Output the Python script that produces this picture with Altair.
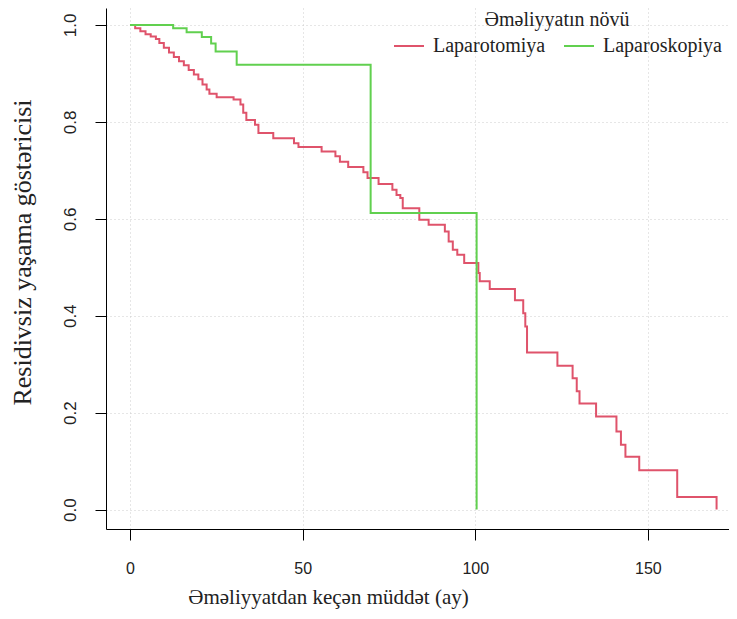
import altair as alt
import pandas as pd

groups = ["Laparotomiya", "Laparoskopiya"]
colors = ["#DF536B", "#61D04F"]

red_t = [0, 1.5, 3.0, 4.5, 6.0, 7.5, 8.5, 9.8, 11.3, 12.7, 14.2, 15.6, 17.0, 18.5, 19.8,
         21.0, 22.2, 23.0, 25.1, 30.0, 32.0, 32.8, 33.7, 36.2, 37.2, 41.5, 47.5, 48.8,
         55.5, 59.5, 60.8, 63.2, 67.6, 68.8, 72.0, 76.0, 77.2, 78.3, 79.0, 83.8, 86.5,
         91.2, 92.3, 93.5, 94.8, 96.8, 100.9, 101.3, 104.2, 111.5, 113.9, 114.5, 115.0,
         123.8, 128.2, 129.4, 130.2, 135.0, 140.9, 142.2, 143.5, 147.5, 158.5, 169.9]
red_s = [1.0, 0.993, 0.987, 0.981, 0.976, 0.971, 0.963, 0.953, 0.943, 0.934, 0.925, 0.917,
         0.907, 0.898, 0.888, 0.877, 0.867, 0.858, 0.851, 0.846, 0.836, 0.819, 0.804,
         0.794, 0.777, 0.766, 0.756, 0.748, 0.739, 0.729, 0.718, 0.707, 0.696, 0.684,
         0.672, 0.660, 0.649, 0.643, 0.622, 0.598, 0.588, 0.574, 0.553, 0.536, 0.526,
         0.509, 0.488, 0.471, 0.455, 0.432, 0.405, 0.378, 0.324, 0.297, 0.271, 0.244,
         0.219, 0.192, 0.161, 0.134, 0.109, 0.081, 0.026, 0.0]

green_t = [0, 12.5, 16.4, 20.8, 23.5, 24.8, 30.9, 69.7, 100.4]
green_s = [1.0, 0.993, 0.985, 0.975, 0.962, 0.945, 0.918, 0.612, 0.0]

x_ticks = [0, 50, 100, 150]
y_ticks = [0.0, 0.2, 0.4, 0.6, 0.8, 1.0]

SERIF = "Liberation Serif, Times New Roman, DejaVu Serif, serif"
SANS = "Liberation Sans, Arial, sans-serif"

df = pd.concat([
    pd.DataFrame({"t": red_t, "s": red_s, "group": groups[0]}),
    pd.DataFrame({"t": green_t, "s": green_s, "group": groups[1]}),
], ignore_index=True)

x_axis = alt.Axis(
    values=x_ticks, title="Əməliyyatdan keçən müddət (ay)",
    labelFont=SANS, labelFontSize=16, labelColor="#222",
    tickSize=11, tickColor="black", domainColor="black", labelPadding=20,
    grid=True, gridColor="#cccccc", gridDash=[1, 3],
    titleFont=SERIF, titleFontSize=21, titleFontWeight="normal",
    titleColor="#222", titleX=222, titleY=68, titleAlign="center", titleBaseline="middle",
)
y_axis = alt.Axis(
    values=y_ticks, format=".1f", title="Residivsiz yaşama göstəricisi",
    labelFont=SANS, labelFontSize=17, labelColor="#222",
    labelAngle=270, labelAlign="center", labelBaseline="bottom",
    tickSize=11, tickColor="black", domainColor="black", labelPadding=16,
    grid=True, gridColor="#cccccc", gridDash=[1, 3],
    titleFont=SERIF, titleFontSize=26, titleFontWeight="normal",
    titleColor="#222", titleAngle=270, titleX=-84, titleY=244,
    titleAlign="center", titleBaseline="middle",
)

lines = alt.Chart(df).mark_line(interpolate="step-after", strokeWidth=2, clip=True).encode(
    x=alt.X("t:Q", scale=alt.Scale(domain=[-6.95, 173.5], nice=False, zero=False), axis=x_axis),
    y=alt.Y("s:Q", scale=alt.Scale(domain=[-0.04, 1.035], nice=False, zero=False), axis=y_axis),
    color=alt.Color("group:N", scale=alt.Scale(domain=groups, range=colors),
                    legend=alt.Legend(
                        title="Əməliyyatın növü", orient="none", legendX=287, legendY=2,
                        direction="horizontal", titleAnchor="middle",
                        titleFont=SERIF, titleFontSize=20, titleFontWeight="normal",
                        titleColor="#222", labelFont=SERIF, labelFontSize=20,
                        labelColor="#222", symbolType="stroke", symbolStrokeWidth=2,
                        symbolSize=900, columnPadding=14, labelOffset=8, padding=0,
                        titlePadding=0, labelLimit=200)),
)

top_rule = alt.Chart(pd.DataFrame([{}])).mark_rule(color="black", strokeWidth=1.5).encode(
    y=alt.value(0)
)

chart = alt.layer(lines, top_rule).properties(
    width=623, height=521,
    autosize=alt.AutoSizeParams(type="none"),
    padding={"left": 98, "top": 0, "right": 0, "bottom": 80},
    background="white",
).configure_view(stroke=None)

chart.save("out.html", embed_options={"renderer": "svg", "actions": False})
